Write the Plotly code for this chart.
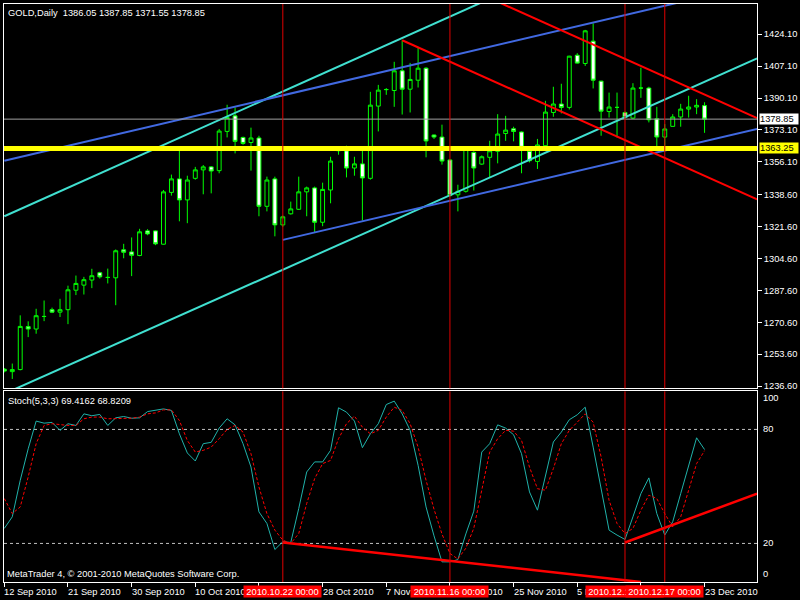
import plotly.graph_objects as go

# ---------------- data ----------------
bars = list(range(89))

opens = [1245.6, 1244.3, 1245.4, 1268.3, 1267.0, 1273.7, 1277.3, 1276.0, 1277.3, 1287.7,
         1290.4, 1293.1, 1297.0, 1294.5, 1294.3, 1309.2, 1308.1, 1306.2, 1319.3, 1319.3,
         1312.2, 1339.8, 1347.0, 1335.8, 1347.3, 1351.8, 1353.4, 1351.4, 1372.3, 1380.6,
         1369.1, 1366.4, 1368.8, 1332.4, 1347.0, 1322.5, 1328.4, 1330.8, 1340.1, 1342.2,
         1323.9, 1341.1, 1362.0, 1362.0, 1352.8, 1355.0, 1347.3, 1385.8, 1394.6, 1394.1,
         1404.6, 1394.8, 1399.6, 1406.0, 1370.4, 1369.3, 1357.1, 1338.5, 1340.4, 1361.1,
         1354.9, 1358.5, 1361.7, 1371.2, 1373.7, 1372.0, 1361.7, 1356.3, 1364.7, 1382.4,
         1386.9, 1385.1, 1412.9, 1408.5, 1420.4, 1399.1, 1382.9, 1385.1, 1382.4, 1379.4,
         1395.4, 1395.4, 1379.0, 1369.3, 1375.0, 1380.0, 1384.2, 1385.3, 1386.05]
highs = [1246.2, 1248.6, 1274.3, 1271.1, 1277.8, 1282.2, 1278.4, 1283.1, 1290.1, 1295.5,
         1294.8, 1299.1, 1297.5, 1299.2, 1309.4, 1312.4, 1315.8, 1320.4, 1320.2, 1319.5,
         1341.1, 1349.3, 1362.0, 1348.7, 1353.4, 1354.4, 1353.8, 1373.6, 1386.5, 1385.1,
         1369.5, 1374.3, 1370.0, 1348.2, 1348.2, 1327.5, 1334.9, 1348.2, 1342.9, 1342.9,
         1345.0, 1358.8, 1364.0, 1364.7, 1358.8, 1362.0, 1393.4, 1397.1, 1395.4, 1409.4,
         1420.9, 1408.8, 1417.0, 1406.5, 1370.6, 1375.9, 1357.5, 1343.9, 1364.0, 1361.7,
         1359.5, 1367.3, 1381.5, 1380.6, 1374.8, 1372.3, 1362.0, 1368.3, 1388.6, 1396.1,
         1397.7, 1412.6, 1414.0, 1426.4, 1429.9, 1399.3, 1393.0, 1393.0, 1382.9, 1398.0,
         1406.3, 1396.1, 1385.4, 1376.2, 1381.5, 1387.0, 1391.3, 1389.5, 1387.85]
lows = [1243.9, 1240.4, 1245.0, 1262.7, 1264.5, 1271.2, 1275.5, 1273.4, 1269.6, 1285.1,
        1285.4, 1288.8, 1293.9, 1291.3, 1279.7, 1304.7, 1295.2, 1305.8, 1317.0, 1311.7,
        1312.0, 1338.1, 1324.4, 1323.4, 1346.6, 1338.8, 1339.3, 1350.0, 1369.1, 1360.6,
        1365.2, 1351.4, 1327.1, 1329.7, 1316.4, 1321.5, 1328.0, 1330.5, 1327.1, 1318.6,
        1321.8, 1334.0, 1359.9, 1347.8, 1348.7, 1324.8, 1346.6, 1372.3, 1391.8, 1385.4,
        1381.3, 1382.4, 1395.7, 1358.5, 1368.3, 1354.6, 1337.5, 1329.7, 1339.7, 1340.8,
        1354.5, 1347.8, 1355.3, 1367.3, 1367.0, 1350.0, 1355.8, 1352.3, 1364.3, 1380.1,
        1381.9, 1384.0, 1408.5, 1407.2, 1395.2, 1370.0, 1379.7, 1369.1, 1378.9, 1378.9,
        1390.2, 1377.1, 1363.8, 1364.7, 1375.0, 1374.8, 1379.7, 1381.5, 1371.55]
closes = [1244.6, 1245.4, 1268.4, 1267.0, 1274.1, 1273.7, 1276.0, 1277.3, 1287.9, 1291.3,
          1293.3, 1295.4, 1294.8, 1294.5, 1308.7, 1307.9, 1306.3, 1318.8, 1317.7, 1312.4,
          1340.1, 1347.0, 1335.8, 1346.4, 1351.8, 1353.4, 1351.2, 1372.5, 1379.7, 1367.0,
          1365.9, 1368.8, 1332.4, 1346.4, 1322.5, 1326.8, 1331.0, 1340.1, 1342.2, 1323.9,
          1341.4, 1356.5, 1363.5, 1352.8, 1355.0, 1347.5, 1386.3, 1394.3, 1394.6, 1404.6,
          1394.8, 1400.0, 1406.0, 1367.2, 1369.3, 1356.5, 1338.1, 1340.4, 1363.0, 1352.8,
          1358.8, 1362.0, 1370.9, 1373.0, 1372.3, 1363.8, 1356.7, 1365.1, 1382.6, 1386.9,
          1385.1, 1412.4, 1408.7, 1425.9, 1399.6, 1383.1, 1385.3, 1385.1, 1379.7, 1395.4,
          1395.4, 1378.5, 1369.3, 1373.6, 1380.0, 1384.2, 1385.3, 1386.2, 1378.85]

stoch_k = [27.9, 34.0, 53.2, 69.8, 84.4, 83.3, 83.7, 79.5, 83.0, 82.1,
           88.2, 87.2, 87.9, 82.1, 86.1, 86.8, 85.9, 86.1, 89.4, 90.0,
           90.8, 90.0, 77.7, 67.6, 63.4, 72.5, 73.2, 80.7, 85.6, 82.4,
           72.5, 60.2, 36.6, 30.5, 16.8, 20.9, 20.5, 38.4, 57.6, 62.9,
           62.9, 69.0, 91.4, 89.1, 84.4, 70.4, 77.7, 83.0, 93.1, 94.9,
           88.2, 79.5, 61.1, 39.2, 24.0, 10.3, 10.3, 11.5, 25.0, 37.0,
           68.1, 72.5, 82.4, 80.7, 77.2, 67.2, 47.1, 37.5, 55.8, 73.4,
           78.6, 85.1, 87.7, 91.7, 70.7, 49.7, 27.0, 24.4, 22.1, 34.0,
           46.2, 54.5, 35.7, 24.4, 31.4, 46.2, 61.1, 75.6, 69.4162]
stoch_d = [43.6, 35.7, 39.2, 55.0, 72.5, 82.1, 83.0, 82.6, 82.1, 82.1,
           85.6, 86.5, 86.5, 85.6, 85.6, 85.6, 85.9, 86.5, 88.2, 88.7,
           90.3, 90.3, 84.7, 74.2, 68.1, 69.0, 70.7, 75.1, 80.0, 82.1,
           78.6, 67.2, 49.7, 35.7, 27.0, 21.7, 20.0, 25.2, 41.0, 54.1,
           62.0, 63.7, 75.1, 83.0, 87.0, 81.2, 77.7, 79.5, 86.5, 91.7,
           90.0, 83.0, 70.7, 53.2, 38.0, 25.0, 14.7, 11.8, 17.5, 28.0,
           48.0, 68.1, 75.1, 79.5, 79.1, 74.2, 60.2, 48.8, 48.0, 59.4,
           72.5, 79.5, 83.8, 88.2, 83.8, 65.5, 42.7, 30.5, 25.2, 27.9,
           37.5, 45.4, 43.6, 35.7, 28.7, 34.0, 48.0, 62.0, 68.8209]

price_ticks = [1236.60, 1253.60, 1270.60, 1287.60, 1304.60, 1321.60,
               1338.60, 1356.10, 1373.10, 1390.10, 1407.10, 1424.10]
stoch_levels = [100, 80, 20, 0]
date_tick_bars = [0, 8, 16, 24, 32, 40, 48, 56, 64, 72, 80, 88]
date_tick_labels = ["12 Sep 2010", "21 Sep 2010", "30 Sep 2010", "10 Oct 2010",
                    "19 Oct 2010", "28 Oct 2010", "7 Nov 2010", "16 Nov 2010",
                    "25 Nov 2010", "5 Dec 2010", "14 Dec 2010", "23 Dec 2010"]
vline_bars = [35, 56, 78, 83]
vline_labels = ["2010.10.22 00:00", "2010.11.16 00:00", "2010.12.12 00:00", "2010.12.17 00:00"]

# trend lines (bar, price) end points
cyan_lo_x, cyan_lo_y = [0, 94.6], [1232.5, 1411.2]
cyan_hi_x, cyan_hi_y = [0, 94.6], [1327.1, 1506.8]
blue_hi_x, blue_hi_y = [0, 94.6], [1356.7, 1450.8]
blue_lo_x, blue_lo_y = [35, 94.6], [1314.5, 1373.6]
red_lo_x, red_lo_y = [50, 94.6], [1420.9, 1336.1]
red_hi_x, red_hi_y = [50, 94.6], [1464.2, 1379.4]
support_level = 1363.25
last_price = 1378.85
stoch_tl1_x, stoch_tl1_y = [35, 80], [20.5, -0.3]
stoch_tl2_x, stoch_tl2_y = [78, 94.6], [20.5, 46.2]

title_text = "GOLD,Daily  1386.05 1387.85 1371.55 1378.85"
stoch_text = "Stoch(5,3,3) 69.4162 68.8209"
copyright_text = "MetaTrader 4, © 2001-2010 MetaQuotes Software Corp."

# ---------------- figure ----------------
FONT = "Liberation Sans"
FS = 9.3
XR = [-0.04, 94.59]

fig = go.Figure()

fig.add_trace(go.Candlestick(
    x=bars, open=opens, high=highs, low=lows, close=closes,
    increasing=dict(line=dict(color="#00FF00", width=1), fillcolor="black"),
    decreasing=dict(line=dict(color="#00FF00", width=1), fillcolor="white"),
    xaxis="x", yaxis="y", hoverinfo="skip"))

def tl(x, y, color, width, xa="x", ya="y", dash=None):
    fig.add_trace(go.Scatter(x=x, y=y, mode="lines", xaxis=xa, yaxis=ya,
                             line=dict(color=color, width=width, dash=dash),
                             hoverinfo="skip"))

tl(cyan_lo_x, cyan_lo_y, "#40E0D0", 2)
tl(cyan_hi_x, cyan_hi_y, "#40E0D0", 2)
tl(blue_hi_x, blue_hi_y, "#4169E1", 2)
tl(blue_lo_x, blue_lo_y, "#4169E1", 2)
tl(red_lo_x, red_lo_y, "#FF0000", 2)
tl(red_hi_x, red_hi_y, "#FF0000", 2)

# stochastic
tl(bars, stoch_k, "#20B2AA", 1, "x2", "y2")
tl(bars, stoch_d, "#FF0000", 1, "x2", "y2", dash="3px,2px")
tl(stoch_tl1_x, stoch_tl1_y, "#FF0000", 2.5, "x2", "y2")
tl(stoch_tl2_x, stoch_tl2_y, "#FF0000", 2.5, "x2", "y2")

shapes = []
shapes.append(dict(type="line", xref="x domain", x0=0, x1=1, yref="y", y0=last_price, y1=last_price,
                   line=dict(color="#A0A0A0", width=1), layer="above"))
shapes.append(dict(type="line", xref="x domain", x0=0, x1=1, yref="y", y0=support_level, y1=support_level,
                   line=dict(color="#FFFF00", width=5), layer="above"))
for lv in [80, 20]:
    shapes.append(dict(type="line", xref="x2 domain", x0=0, x1=1, yref="y2", y0=lv, y1=lv,
                       line=dict(color="#C0C0C0", width=1, dash="3px,3px"), layer="below"))
for b in vline_bars:
    for yd in ["y domain", "y2 domain"]:
        shapes.append(dict(type="line", xref="x", x0=b, x1=b, yref=yd, y0=0, y1=1,
                           line=dict(color="#E00000", width=1), layer="above"))

ann = []
ann.append(dict(text=title_text, xref="paper", yref="paper", x=0, y=1, xanchor="left", yanchor="top",
                xshift=2, yshift=-2, showarrow=False, font=dict(family=FONT, size=FS, color="white")))
ann.append(dict(text=stoch_text, xref="paper", yref="y2 domain", x=0, y=1, xanchor="left", yanchor="top",
                xshift=2, yshift=-3, showarrow=False, font=dict(family=FONT, size=FS, color="white")))
ann.append(dict(text=copyright_text, xref="paper", yref="y2 domain", x=0, y=0, xanchor="left", yanchor="bottom",
                xshift=1, yshift=1, showarrow=False, font=dict(family=FONT, size=FS, color="white")))
for b, t in zip(date_tick_bars, date_tick_labels):
    ann.append(dict(text=t, xref="x2", yref="paper", x=b, y=0, xanchor="left", yanchor="middle",
                    xshift=-2, yshift=-10, showarrow=False, font=dict(family=FONT, size=FS, color="white")))
for b, t in zip(vline_bars, vline_labels):
    ann.append(dict(text=t, xref="x2", yref="paper", x=b, y=0, xanchor="center", yanchor="middle",
                    yshift=-9, showarrow=False, bgcolor="#FF0000", borderpad=0, width=77, height=11,
                    font=dict(family=FONT, size=FS, color="white")))
for lv in stoch_levels:
    ya = "top" if lv == 100 else ("bottom" if lv == 0 else "middle")
    ann.append(dict(text=str(lv), xref="paper", yref="y2", x=1, y=lv, xanchor="left", yanchor=ya,
                    xshift=4, showarrow=False, font=dict(family=FONT, size=FS, color="white")))
ann.append(dict(text=f"{last_price:.2f}", xref="paper", yref="y", x=1, y=last_price, xanchor="left",
                yanchor="middle", xshift=2, showarrow=False, bgcolor="white", borderpad=0,
                width=38, height=10, align="left", font=dict(family=FONT, size=FS, color="black")))
ann.append(dict(text=f"{support_level:.2f}", xref="paper", yref="y", x=1, y=support_level, xanchor="left",
                yanchor="middle", xshift=2, showarrow=False, bgcolor="#FFFF00", borderpad=0,
                width=38, height=10, align="left", font=dict(family=FONT, size=FS, color="black")))

axis_common = dict(showgrid=False, zeroline=False, showline=True, mirror=True,
                   linecolor="white", linewidth=1)

fig.update_layout(
    width=800, height=600,
    margin=dict(l=3, r=40, t=3, b=18),
    paper_bgcolor="black", plot_bgcolor="black", showlegend=False,
    font=dict(family=FONT, size=FS, color="white"),
    xaxis=dict(domain=[0, 1], range=XR, anchor="y", showticklabels=False, ticks="",
               rangeslider=dict(visible=False), **axis_common),
    yaxis=dict(domain=[0.33506, 1], range=[1235.4, 1440.2], side="right", anchor="x",
               tickvals=price_ticks, ticktext=[f"{v:.2f}" for v in price_ticks],
               ticks="outside", ticklen=4, tickcolor="white",
               tickfont=dict(family=FONT, size=FS, color="white"), **axis_common),
    xaxis2=dict(domain=[0, 1], range=XR, anchor="y2", showticklabels=False,
                tickvals=date_tick_bars, ticks="outside", ticklen=4, tickcolor="white",
                **axis_common),
    yaxis2=dict(domain=[0, 0.32988], range=[-0.3, 100.05], side="right", anchor="x2",
                showticklabels=False, ticks="", **axis_common),
    shapes=shapes, annotations=ann,
)

fig.write_html("out.html", config={"displayModeBar": False},
               post_script="document.body.style.margin='0';document.body.style.background='black';")
